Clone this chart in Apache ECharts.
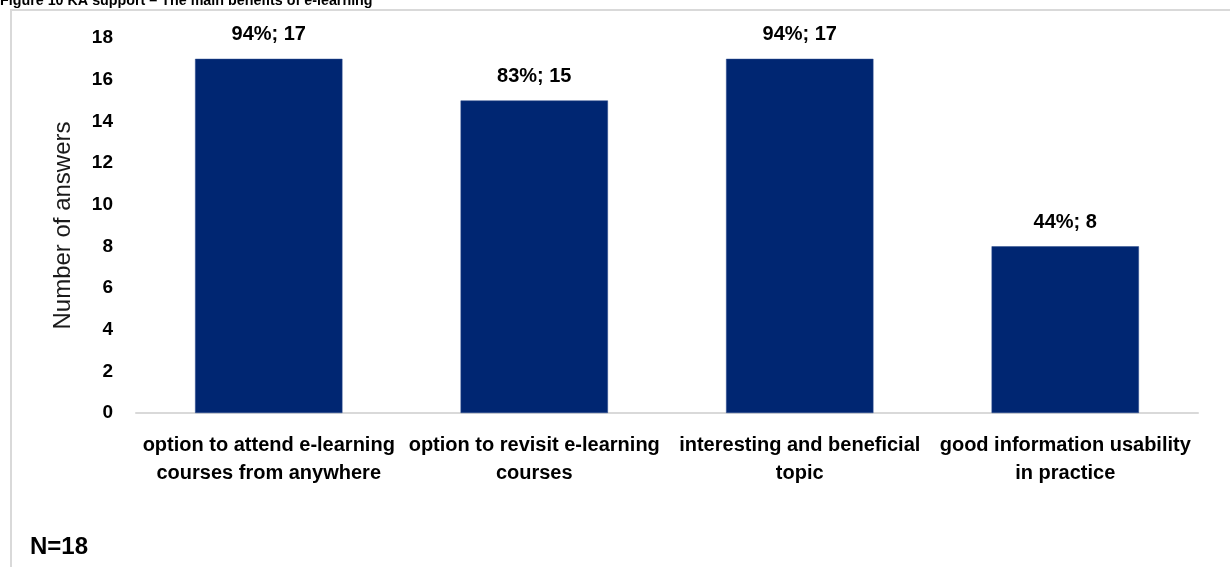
<!DOCTYPE html>
<html>
<head>
<meta charset="utf-8">
<script src="https://cdn.jsdelivr.net/npm/echarts@6/dist/echarts.min.js"></script>
<style>
  html, body { margin: 0; padding: 0; background: #ffffff; }
  #chart { width: 1230px; height: 567px; }
</style>
</head>
<body>
<div id="chart"></div>
<script>
// Benefits of e-learning: number of answers per option
const categories = [
  'option to attend e-learning\ncourses from anywhere',
  'option to revisit e-learning\ncourses',
  'interesting and beneficial\ntopic',
  'good information usability\nin practice'
];
const answers = [17, 15, 17, 8];
const shares = ['94%', '83%', '94%', '44%'];
const yTicks = { min: 0, max: 18, step: 2 };
const titleText = 'Figure 10 KA support \u2013 The main benefits of e-learning';
const footnote = 'N=18';

const FONT = '"Liberation Sans", Arial, sans-serif';

const chart = echarts.init(document.getElementById('chart'), null, { renderer: 'canvas' });

chart.setOption({
  backgroundColor: '#ffffff',
  animation: false,
  graphic: [
    {
      type: 'rect',
      shape: { x: 11, y: 10, width: 1240, height: 580 },
      style: { fill: 'none', stroke: '#d9d9d9', lineWidth: 2 },
      silent: true
    },
    {
      // caption line sits above the frame, partly outside the page
      type: 'text',
      x: 0,
      y: 8,
      style: {
        text: titleText,
        font: 'bold 14.3px ' + FONT,
        fill: '#000000',
        verticalAlign: 'bottom'
      }
    },
    {
      type: 'text',
      x: 30,
      y: 547,
      style: {
        text: footnote,
        font: 'bold 24px ' + FONT,
        fill: '#000000',
        verticalAlign: 'middle'
      }
    }
  ],
  grid: { left: 136, right: 32, top: 38, bottom: 154, containLabel: false },
  xAxis: {
    type: 'category',
    data: categories,
    axisLine: { show: true, lineStyle: { color: '#d9d9d9', width: 2 } },
    axisTick: { show: false },
    axisLabel: {
      interval: 0,
      margin: 18,
      color: '#000000',
      fontFamily: FONT,
      fontWeight: 'bold',
      fontSize: 20,
      lineHeight: 28,
      align: 'center'
    }
  },
  yAxis: {
    type: 'value',
    min: yTicks.min,
    max: yTicks.max,
    interval: yTicks.step,
    name: 'Number of answers',
    nameLocation: 'middle',
    nameGap: 61,
    nameTextStyle: { color: '#1a1a1a', fontFamily: FONT, fontSize: 24 },
    axisLine: { show: false },
    axisTick: { show: false },
    splitLine: { show: false },
    axisLabel: {
      margin: 23,
      color: '#000000',
      fontFamily: FONT,
      fontWeight: 'bold',
      fontSize: 19
    }
  },
  series: [
    {
      type: 'bar',
      data: answers,
      barWidth: '55.5%',
      itemStyle: { color: '#002672', borderColor: '#2a4a8c', borderWidth: 0.5 },
      label: {
        show: true,
        position: 'top',
        distance: 14,
        color: '#000000',
        fontFamily: FONT,
        fontWeight: 'bold',
        fontSize: 20,
        formatter: (p) => shares[p.dataIndex] + '; ' + p.value
      }
    }
  ]
});
</script>
</body>
</html>
